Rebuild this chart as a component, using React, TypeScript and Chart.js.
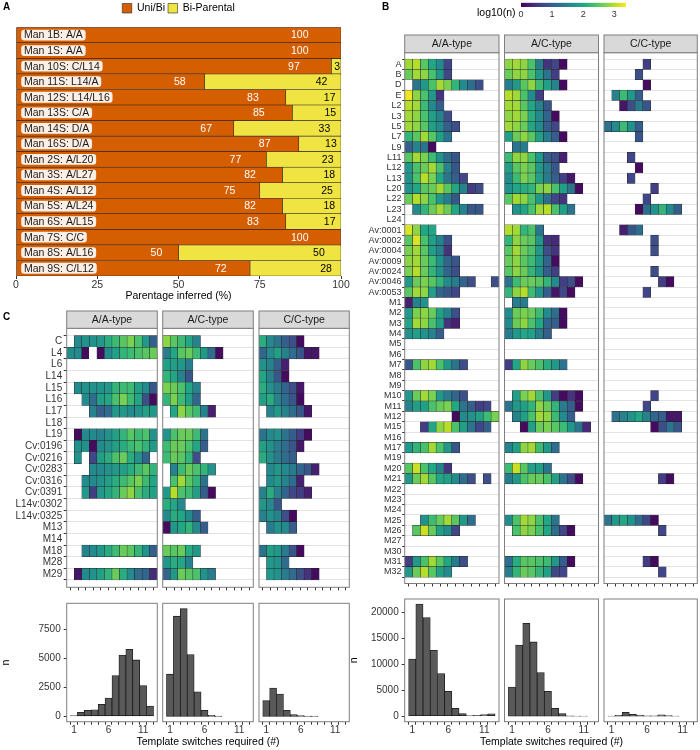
import React, { useEffect, useRef } from "react";
import { Chart, registerables } from "chart.js";

Chart.register(...registerables);

const FONT = "'Liberation Sans', Arial, Helvetica, sans-serif";
Chart.defaults.font.family = FONT;
Chart.defaults.color = "#333333";

const PAGE_W = 700;
const PAGE_H = 750;

// ---------------- Panel A data ----------------
const aCategories = [
  "Man 1B: A/A", "Man 1S: A/A", "Man 10S: C/L14", "Man 11S: L14/A", "Man 12S: L14/L16",
  "Man 13S: C/A", "Man 14S: D/A", "Man 16S: D/A", "Man 2S: A/L20", "Man 3S: A/L27",
  "Man 4S: A/L12", "Man 5S: A/L24", "Man 6S: A/L15", "Man 7S: C/C", "Man 8S: A/L16", "Man 9S: C/L12",
];
const aUniBi = [100, 100, 97, 58, 83, 85, 67, 87, 77, 82, 75, 82, 83, 100, 50, 72];
const aBiParental = [0, 0, 3, 42, 17, 15, 33, 13, 23, 18, 25, 18, 17, 0, 50, 28];
const aSeries = ["Uni/Bi", "Bi-Parental"];
const aTicks = [0, 25, 50, 75, 100];

// ---------------- Shared ----------------
const facets = ["A/A-type", "A/C-type", "C/C-type"];
const switchTicks = [1, 2, 3, 4, 5, 6, 7, 8, 9, 10, 11, 12];
const histLabelTicks = [1, 6, 11];
const LOG_MAX = 3.38;
const colorbarTicks = [0, 1, 2, 3];

// cells: [first column, log10(n) per column]; null = empty, -1 = blank (white) tile
type Cells = [number, (number | null)[]];

// ---------------- Panel B data ----------------
const bRows = [
  "A", "B", "D", "E", "L2", "L3", "L5", "L7", "L9", "L11", "L12", "L13", "L20", "L22", "L23", "L24",
  "Av:0001", "Av:0002", "Av:0004", "Av:0009", "Av:0024", "Av:0046", "Av:0053",
  "M1", "M2", "M3", "M4", "M5", "M6", "M7", "M8", "M9", "M10", "M11", "M12", "M15", "M16", "M17",
  "M19", "M20", "M21", "M22", "M23", "M24", "M25", "M26", "M27", "M30", "M31", "M32",
];
const bHeatAA: Record<string, Cells> = {
  A: [1, [2.9, 3.0, 2.5, 2.0, 1.6, 0.7]],
  B: [1, [2.6, 2.9, 2.8, 2.4, 1.8, 0.7]],
  D: [1, [-1, 1.3, 1.8, 2.4, 2.9, 2.7, 2.2, 1.6, 1.2, 0.8]],
  E: [1, [3.3, 2.8, 2.4, 1.8, 0.5]],
  L2: [1, [3.0, 2.9, 2.3, 1.6, 1.0]],
  L3: [1, [2.9, 2.8, 2.4, 1.9, 1.5, 0.8]],
  L5: [1, [2.9, 2.8, 2.5, 1.9, 1.6, 1.0, 0.8]],
  L7: [1, [2.2, 2.5, 2.9, 2.5, 1.9, 1.3]],
  L9: [1, [1.0, 1.5, 1.3, 0.1]],
  L11: [1, [2.5, 2.9, 2.7, 2.3, 1.7, 1.2, 0.9]],
  L12: [1, [1.8, 2.4, 2.6, 2.9, 2.4, 1.5, 0.9]],
  L13: [1, [1.7, 2.4, 3.0, 2.7, 2.0, 1.3, 1.0, 0.7]],
  L20: [1, [1.7, 2.0, 2.5, 2.6, 2.9, 2.5, 2.0, 1.5, 0.6, 0.8]],
  L22: [1, [2.6, 3.0, 2.8, 2.4, 1.8, 1.4, 0.9]],
  L23: [2, [1.6, 2.2, 2.6, 2.9, 2.6, 2.0, 1.5, 0.9, 0.9]],
  "Av:0001": [1, [3.2, 2.8, 2.0, 2.0]],
  "Av:0002": [1, [2.5, 3.2, 2.4, 1.9, 1.5, 0.8]],
  "Av:0004": [1, [2.7, 2.9, 2.5, 1.9, 1.5, 0.5]],
  "Av:0009": [1, [2.8, 2.9, 2.6, 2.3, 1.7, 1.1, 0.9]],
  "Av:0024": [1, [2.7, 3.0, 2.6, 2.2, 1.7, 1.1, 0.8]],
  "Av:0046": [1, [1.8, 2.6, 2.7, 2.5, 2.2, 1.6, 1.4, 1.1, 0.8, null, null, 0.8]],
  "Av:0053": [1, [2.5, 2.9, 2.8, 1.9, 1.1, 0.9, 0.7]],
  M1: [1, [0.3, 1.5, 1.7]],
  M2: [1, [1.8, 2.7, 2.8, 2.6, 1.9, 1.5, 0.8]],
  M3: [1, [2.0, 2.9, 2.8, 2.4, 1.9, 0.5, 0.3]],
  M4: [1, [1.7, 1.9, 1.7, 1.5, 1.0]],
  M7: [1, [0.9, 2.4, 2.8, 2.9, 2.4, 1.8, 1.3, 0.8]],
  M10: [1, [1.8, 2.6, 2.9, 2.7, 1.8, 1.4, 1.1, 0.8]],
  M11: [1, [1.5, 1.9, 1.9, 2.4, 2.6, 2.7, 2.0, 1.3, 1.0, 0.6, 0.7]],
  M12: [7, [0.1, 1.6, 1.7, 1.9, 2.3, 2.7]],
  M15: [3, [0.6, 2.0, 2.8, 3.0, 2.4, 1.9, 1.3, 0.7, 1.0]],
  M17: [1, [1.8, 2.2, 2.4, 2.9, 2.4, 1.8, 0.9]],
  M20: [1, [2.5, 3.1, 2.4, 2.0, 1.5, 0.5]],
  M21: [1, [1.8, 2.6, 2.9, 2.5, 2.0, 1.9, 1.6, 1.2, 0.8, null, 0.8]],
  M25: [3, [1.7, 2.3, 2.6, 2.9, 2.5, 1.8, 1.2]],
  M26: [2, [2.5, 3.1, 2.6, 1.9, 1.6, 0.7]],
  M31: [1, [0.6, 1.8, 2.4, 2.9, 2.5, 2.0, 1.4, 0.8]],
  M32: [1, [1.8, 2.6, 3.0, 2.5, 1.9, 1.6]],
};
const bHeatAC: Record<string, Cells> = {
  A: [1, [2.8, 2.9, 2.8, 2.4, 1.4, 0.5, 0.7, 0.1]],
  B: [1, [2.6, 2.8, 2.8, 2.4, 1.8, 1.3, 0.6]],
  D: [1, [1.4, 1.8, 2.5, 2.8, 2.3, 1.9, 1.5, 0.1]],
  E: [1, [3.0, 2.9, 2.4, 1.6, 0.6]],
  L2: [1, [2.9, 2.9, 2.5, 2.0, 1.5, 0.9]],
  L3: [1, [2.8, 2.9, 2.7, 2.1, 1.6, 1.1, 0.1]],
  L5: [1, [2.9, 2.8, 2.6, 2.0, 1.6, 1.0, 0.7]],
  L7: [1, [1.9, 2.6, 2.8, 2.5, 1.9, 1.4, 1.0, 0.1]],
  L9: [1, [-1, 1.3, 1.4]],
  L11: [1, [2.3, 2.8, 2.8, 2.4, 1.8, 1.0, 0.8, 0.3]],
  L12: [1, [1.9, 2.5, 2.7, 2.5, 1.8, 1.4, 0.9]],
  L13: [1, [1.6, 2.3, 2.7, 2.5, 1.9, 1.4, 1.0, 0.6, 0.2]],
  L20: [1, [1.7, 2.0, 2.1, 2.2, 2.7, 2.8, 2.4, 1.9, 1.3, 0.1]],
  L22: [1, [2.5, 2.9, 2.8, 2.4, 1.8, 1.2, 0.7, 0.5]],
  L23: [2, [1.7, 2.0, 2.4, 2.9, 3.0, 2.4, 1.9, 1.3]],
  "Av:0001": [1, [3.0, 2.9, 2.2, 2.4, 1.3]],
  "Av:0002": [1, [2.2, 2.8, 2.6, 2.5, 1.8, 0.5, 0.4]],
  "Av:0004": [1, [2.5, 2.9, 2.6, 2.4, 1.8, 0.8, 0.5]],
  "Av:0009": [1, [2.6, 2.8, 2.5, 2.3, 1.8, 1.1, 0.1]],
  "Av:0024": [1, [2.5, 2.8, 2.6, 2.2, 1.7, 1.0, 0.6]],
  "Av:0046": [1, [1.3, 2.3, 2.6, 2.6, 2.5, 2.2, 1.6, 0.6, 0.8, 0.1]],
  "Av:0053": [1, [2.2, 2.8, 3.0, 2.3, 1.7, 1.0, 0.2, 0.7, 0.1]],
  M1: [2, [1.4, 1.4]],
  M2: [1, [1.6, 2.6, 2.7, 2.6, 2.3, 1.6, 1.2, 0.1]],
  M3: [1, [1.6, 2.6, 2.8, 2.4, 2.0, 1.1, 1.0, 0.1]],
  M4: [1, [1.4, 1.8, 2.0, 1.9, 1.4, 1.0]],
  M7: [1, [0.6, 2.0, 2.8, 2.6, 2.4, 2.1, 1.8, 1.3]],
  M10: [2, [1.9, 2.7, 2.9, 2.4, 1.8, 0.6, 0.1, 0.5, 0.1]],
  M11: [1, [1.3, 1.8, 1.9, 2.2, 2.8, 2.6, 2.2, 1.4, 1.0, 0.1]],
  M12: [2, [1.5, 1.9, 2.4, 2.9, 2.8, 2.3, 1.6, 1.0]],
  M15: [3, [0.1, 1.9, 2.6, 2.7, 2.5, 2.3, 1.8, 1.3, 0.4]],
  M17: [1, [1.5, 1.9, 2.8, 2.9, 2.3, 1.8, 1.2]],
  M20: [1, [2.3, 3.1, 2.5, 1.9, 1.9, 1.3]],
  M21: [1, [1.4, 1.8, 2.4, 2.6, 2.6, 2.4, 1.9, 1.3, 0.8, 0.1]],
  M25: [1, [1.6, 2.4, 2.9, 2.8, 2.4, 2.0, 1.3]],
  M26: [2, [2.4, 2.8, 2.7, 2.4, 2.0, 1.2, 0.7, 0.1]],
  M31: [1, [1.2, 2.1, 2.5, 2.5, 2.4, 2.3, 1.8, 1.0, 0.1]],
  M32: [1, [1.4, 2.2, 2.6, 2.5, 2.2, 1.9, 0.7, 0.7]],
};
const bHeatCC: Record<string, Cells> = {
  A: [6, [0.6]],
  B: [5, [0.8]],
  D: [6, [0.1]],
  E: [2, [1.5, 2.3, 1.8, 1.0]],
  L2: [3, [0.2, 0.8, 1.4, 0.9]],
  L5: [1, [1.3, 1.6, 2.3, 1.7, 1.0]],
  L7: [5, [0.9]],
  L11: [4, [0.7]],
  L12: [5, [0.1]],
  L13: [4, [0.7]],
  L20: [7, [0.6]],
  L22: [6, [0.7]],
  L23: [5, [0.1, 1.2, 1.7, 2.2, 1.6, 1.0]],
  "Av:0001": [3, [0.3, 0.9, 1.2]],
  "Av:0002": [7, [0.8]],
  "Av:0004": [7, [0.8]],
  "Av:0024": [7, [0.8]],
  "Av:0046": [8, [0.6, 0.1]],
  "Av:0053": [6, [0.7]],
  M10: [7, [0.7]],
  M11: [6, [0.7]],
  M12: [2, [1.3, 1.5, 1.7, 2.0, 1.5, 1.1, 1.0, 0.2, 0.2]],
  M15: [7, [0.1, 0.8, 1.3, 0.9]],
  M21: [8, [0.6, 0.1]],
  M25: [1, [1.3, 1.8, 2.0, 1.7, 1.2, 0.7, 0.1]],
  M26: [8, [0.7]],
  M31: [6, [0.6, 0.1]],
  M32: [8, [0.7]],
};
const bHistAA = [11000, 21600, 19000, 12700, 8200, 4800, 1500, 500, 100, 150, 300, 450];
const bHistAC = [5600, 13700, 17900, 14300, 8400, 4800, 1500, 500, 70, 20, 10];
const bHistCC = [30, 150, 750, 350, 200, 60, 50, 250, 100, 10];
const bHistMax = 21500;
const bHistTicks = [0, 5000, 10000, 15000, 20000];

// ---------------- Panel C data ----------------
const cRows = [
  "C", "L4", "L6", "L14", "L15", "L16", "L17", "L18", "L19", "Cv:0196", "Cv:0216", "Cv:0283",
  "Cv:0316", "Cv:0391", "L14v:0302", "L14v:0325", "M13", "M14", "M18", "M28", "M29",
];
const cHeatAA: Record<string, Cells> = {
  C: [2, [1.6, 1.7, 1.7, 1.8, 2.1, 2.3, 2.5, 2.7, 2.4, 1.8, 1.0]],
  L4: [1, [1.6, 1.6, 0.1, -1, 0.1, 1.6, 1.9, 2.2, 2.3, 2.4, 2.5, 2.6]],
  L15: [2, [1.6, 1.7, 1.7, 1.7, 1.8, 2.2, 2.3, 2.3, 1.9, 1.6, 0.9]],
  L16: [3, [1.6, 1.2, 1.9, 2.0, 2.4, 2.7, 2.3, 2.0, 0.8, 0.1]],
  L17: [4, [1.5, 1.0, 1.2, 1.8, 1.8, 1.6, 1.7, 1.9, 1.8]],
  L19: [2, [0.1, 1.6, 1.6, 1.5, 1.7, 1.9, 2.2, 2.5, 2.3, 2.4, 1.7]],
  "Cv:0196": [2, [1.7, 1.7, 0.1, 1.6, 1.7, 1.9, 2.1, 2.3, 2.4, 2.2, 1.8]],
  "Cv:0216": [2, [1.7, -1, 0.7, 1.9, 2.1, 2.4, 2.6, 2.1, 1.7, 1.1]],
  "Cv:0283": [4, [1.6, 1.6, 1.7, 1.8, 1.9, 2.1, 2.3, 2.5, 2.2]],
  "Cv:0316": [3, [1.6, 1.6, 1.7, 1.9, 2.1, 2.3, 2.5, 2.7, 2.3, 2.0]],
  "Cv:0391": [3, [1.8, 0.6, 1.8, 2.0, 2.2, 2.6, 2.8, 2.4, 2.1, 1.9]],
  M18: [3, [1.5, 1.6, 1.8, 2.1, 2.3, 2.6, 2.5, 2.2, 1.7, 1.0]],
  M29: [2, [0.2, 1.6, 1.7, 1.9, 2.2, 2.6, 2.1, 1.6, 1.2, 1.1, 0.4]],
};
const cHeatAC: Record<string, Cells> = {
  C: [1, [2.8, 2.5, 2.3, 2.0, 1.5]],
  L4: [1, [1.4, 2.0, 2.5, 2.6, 2.3, 1.8, 1.2, 0.1]],
  L6: [1, [1.9, 1.9, 1.8, 1.4]],
  L14: [1, [2.2, 2.0, 1.5, 0.9]],
  L15: [1, [2.7, 2.6, 2.4, 2.0, 1.5]],
  L16: [1, [2.2, 2.7, 2.3, 1.9, 1.1]],
  L17: [2, [2.0, 2.8, 2.5, 2.3, 1.5, 0.3]],
  L19: [1, [1.7, 2.4, 2.6, 2.6, 2.3, 1.3]],
  "Cv:0196": [1, [2.3, 2.6, 2.6, 2.4, 2.0, 1.0]],
  "Cv:0216": [1, [2.3, 2.6, 2.5, 2.2, 0.8]],
  "Cv:0283": [1, [-1, 1.5, 2.3, 2.6, 2.4, 2.2, 1.7]],
  "Cv:0316": [1, [-1, 2.4, 2.9, 2.5, 2.2, 1.3]],
  "Cv:0391": [1, [1.8, 3.0, 2.4, 2.3, 1.9, 1.0, 0.1]],
  "L14v:0302": [1, [2.1, 2.0, 1.6]],
  "L14v:0325": [1, [1.6, 2.1, 2.0, 1.6, 1.0]],
  M13: [1, [0.1, 1.8, 2.0, 2.2, 1.6, 1.0]],
  M18: [1, [2.6, 2.5, 2.6, 2.1, 1.8]],
  M28: [1, [1.8, 2.1, 2.0, 1.5]],
  M29: [1, [1.1, 1.8, 2.6, 2.5, 2.4, 1.7, 1.4]],
};
const cHeatCC: Record<string, Cells> = {
  C: [1, [2.1, 1.6, 1.3, 1.0, 0.8, 0.1]],
  L4: [1, [1.1, 1.6, 1.9, 1.5, 1.2, 0.9, 0.2, 0.2]],
  L6: [1, [1.7, 1.5, 1.0, 0.3]],
  L14: [1, [2.0, 1.5, 0.9, 0.1]],
  L15: [1, [2.1, 1.7, 1.4, 1.1, 0.8, 0.2]],
  L16: [1, [1.9, 2.1, 1.5, 1.2, 0.9, 0.1]],
  L17: [2, [1.5, 1.8, 1.5, 1.2, 0.9, 0.2]],
  L19: [1, [1.3, 1.6, 1.7, 1.3, 1.0, 0.6, 0.1]],
  "Cv:0196": [1, [1.9, 1.7, 1.4, 1.2, 0.9, 0.2]],
  "Cv:0216": [1, [2.1, 1.7, 1.4, 1.2, 1.0]],
  "Cv:0283": [1, [-1, 1.6, 1.8, 1.6, 1.4, 1.1, 0.9, 0.3]],
  "Cv:0316": [2, [1.6, 1.8, 1.5, 1.2, 0.3]],
  "Cv:0391": [1, [1.5, 2.1, 1.5, 1.1, 0.7, 0.6, 0.3]],
  "L14v:0302": [1, [1.8, 1.6, 0.9]],
  "L14v:0325": [1, [1.5, 1.7, 1.5, 0.8, 0.1]],
  M13: [2, [1.4, 1.7, 1.6, 1.0]],
  M18: [1, [1.3, 1.9, 1.8, 1.4, 0.9, 0.1]],
  M28: [2, [1.8, 1.7, 1.2]],
  M29: [2, [1.8, 1.7, 1.4, 1.2, 0.8, 0.5, 0.1]],
};
const cHistAA = [60, 340, 520, 570, 1030, 1580, 3520, 5300, 5790, 4870, 2660, 890];
const cHistAC = [3640, 8650, 9300, 5330, 2120, 520, 90, 30];
const cHistCC = [1350, 2450, 1920, 520, 140, 60, 30, 20];
const cHistMax = 9300;
const cHistTicks = [0, 2500, 5000, 7500];

// ---------------- Helpers ----------------
const VIRIDIS = [
  "#440154", "#482475", "#414487", "#355F8D", "#2A788E", "#21918C",
  "#22A884", "#44BF70", "#7AD151", "#BDDF26", "#FDE725",
];
function hexToRgb(h: string) {
  const n = parseInt(h.slice(1), 16);
  return [(n >> 16) & 255, (n >> 8) & 255, n & 255];
}
function viridis(t: number) {
  const tt = Math.min(1, Math.max(0, t)) * (VIRIDIS.length - 1);
  const i = Math.min(VIRIDIS.length - 2, Math.floor(tt));
  const f = tt - i;
  const a = hexToRgb(VIRIDIS[i]);
  const b = hexToRgb(VIRIDIS[i + 1]);
  return `rgb(${a.map((c, k) => Math.round(c + (b[k] - c) * f)).join(",")})`;
}

type Box = { l: number; t: number; r: number; b: number };

function padFor(box: Box, yW: number, xH: number) {
  return { left: box.l - yW, right: PAGE_W - box.r, top: box.t, bottom: PAGE_H - box.b - xH };
}
function fixSize(size: number) {
  return (scale: any) => {
    if (scale.isHorizontal()) scale.height = size;
    else scale.width = size;
    scale.paddingLeft = 0;
    scale.paddingRight = 0;
    scale.paddingTop = 0;
    scale.paddingBottom = 0;
  };
}
function setTicks(values: number[]) {
  return (scale: any) => {
    scale.ticks = values.map((v) => ({ value: v }));
  };
}

const facetPlugin = {
  id: "facet",
  afterDatasetsDraw(chart: any, _args: any, opts: any) {
    const { ctx, chartArea: a } = chart;
    ctx.save();
    ctx.strokeStyle = "#7F7F7F";
    ctx.lineWidth = 1;
    ctx.strokeRect(a.left, a.top, a.right - a.left, a.bottom - a.top);
    if (opts && opts.strip) {
      const h = opts.stripH;
      ctx.fillStyle = "#D9D9D9";
      ctx.fillRect(a.left, a.top - h, a.right - a.left, h);
      ctx.strokeRect(a.left, a.top - h, a.right - a.left, h);
      ctx.fillStyle = "#1A1A1A";
      ctx.font = `10.5px ${FONT}`;
      ctx.textAlign = "center";
      ctx.textBaseline = "middle";
      ctx.fillText(opts.strip, (a.left + a.right) / 2, a.top - h / 2 + 0.5);
    }
    if (opts && opts.xTitle) {
      ctx.fillStyle = "#000000";
      ctx.font = `10.5px ${FONT}`;
      ctx.textAlign = "center";
      ctx.textBaseline = "middle";
      ctx.fillText(opts.xTitle, (a.left + a.right) / 2, opts.xTitleY);
    }
    ctx.restore();
  },
};

const aLabelPlugin = {
  id: "aLabels",
  afterDatasetsDraw(chart: any) {
    const { ctx } = chart;
    const xs = chart.scales.x;
    const ys = chart.scales.y;
    ctx.save();
    ctx.font = `10.5px ${FONT}`;
    ctx.textBaseline = "middle";
    aCategories.forEach((name, i) => {
      const py = ys.getPixelForValue(i);
      const bx = xs.getPixelForValue(1.6);
      const tw = ctx.measureText(name).width;
      ctx.fillStyle = "rgba(255,255,255,0.9)";
      ctx.beginPath();
      ctx.roundRect(bx, py - 5.4, tw + 5.5, 10.8, 3);
      ctx.fill();
      ctx.fillStyle = "#1A1A1A";
      ctx.textAlign = "left";
      ctx.fillText(name, bx + 2.7, py + 0.5);
      ctx.textAlign = "right";
      if (aUniBi[i] > 0) {
        ctx.fillStyle = "#FFFFFF";
        ctx.fillText(String(aUniBi[i]), xs.getPixelForValue(aUniBi[i] * 0.9), py + 0.5);
      }
      if (aBiParental[i] > 0) {
        ctx.fillStyle = "#000000";
        ctx.fillText(String(aBiParental[i]), xs.getPixelForValue(100 - aBiParental[i] * 0.1), py + 0.5);
      }
    });
    ctx.restore();
  },
};

const baseOpts = { animation: false, responsive: false, devicePixelRatio: 1, events: [] as string[] };

function panelAConfig(): any {
  const box: Box = { l: 16, t: 27.3, r: 341, b: 276 };
  const xH = 26.8;
  return {
    type: "bar",
    data: {
      labels: aCategories,
      datasets: [
        { label: aSeries[0], data: aUniBi.map((v) => (v > 0 ? v : null)), backgroundColor: "#D55E00", borderColor: "#262626", borderWidth: 0.6, borderSkipped: false },
        { label: aSeries[1], data: aBiParental.map((v) => (v > 0 ? v : null)), backgroundColor: "#F0E442", borderColor: "#262626", borderWidth: 0.6, borderSkipped: false },
      ],
    },
    options: {
      ...baseOpts,
      indexAxis: "y",
      layout: { padding: { left: box.l, right: PAGE_W - box.r, top: 0, bottom: PAGE_H - box.b - xH } },
      datasets: { bar: { categoryPercentage: 1, barPercentage: 1 } },
      scales: {
        x: {
          type: "linear", stacked: true, min: 0, max: 100,
          afterBuildTicks: setTicks(aTicks),
          ticks: { font: { size: 10.5 }, padding: 0, color: "#333333", maxRotation: 0, callback: (v: any) => String(v) },
          grid: { drawOnChartArea: false, tickLength: 3, tickColor: "#333333" },
          border: { display: false },
          title: { display: true, text: "Parentage inferred (%)", color: "#000000", font: { size: 10.5 }, padding: 0 },
          afterFit: fixSize(xH),
        },
        y: { type: "category", stacked: true, display: false },
      },
      plugins: {
        legend: {
          display: true, position: "top", fullSize: false,
          labels: { boxWidth: 9.5, boxHeight: 9.5, padding: 3, font: { size: 10.5 }, color: "#000000" },
        },
        title: { display: true, text: "", weight: 100, padding: 0, font: { size: 3.8, lineHeight: 1 } },
        tooltip: { enabled: false },
      },
    },
    plugins: [aLabelPlugin],
  };
}

function colorbarConfig(): any {
  const box: Box = { l: 521, t: 2.7, r: 626, b: 6.9 };
  return {
    type: "bar",
    data: {
      datasets: [{
        data: [{ x: [0, LOG_MAX], y: 0 }],
        borderWidth: 0,
        categoryPercentage: 1,
        barPercentage: 1,
        backgroundColor: (c: any) => {
          const a = c.chart.chartArea;
          if (!a) return VIRIDIS[5];
          const g = c.chart.ctx.createLinearGradient(a.left, 0, a.right, 0);
          VIRIDIS.forEach((col, i) => g.addColorStop(i / (VIRIDIS.length - 1), col));
          return g;
        },
      }],
    },
    options: {
      ...baseOpts,
      indexAxis: "y",
      layout: { padding: padFor(box, 0, 14) },
      scales: {
        x: {
          type: "linear", min: 0, max: LOG_MAX,
          afterBuildTicks: setTicks(colorbarTicks),
          ticks: { font: { size: 9 }, padding: 2.7, color: "#333333", maxRotation: 0 },
          grid: { display: false, drawTicks: false },
          border: { display: false },
          afterFit: fixSize(14),
        },
        y: { type: "linear", display: false, min: -0.5, max: 0.5, afterBuildTicks: setTicks([0]) },
      },
      plugins: { legend: { display: false }, tooltip: { enabled: false } },
    },
  };
}

function heatConfig(rows: string[], cells: Record<string, Cells>, box: Box, showY: boolean, yW: number,
  strip: string, stripH: number, labelSize: number, tickLen: number, labelPad: number): any {
  const points: any[] = [];
  const fills: string[] = [];
  const strokes: string[] = [];
  rows.forEach((name, i) => {
    const entry = cells[name];
    if (!entry) return;
    const [start, vals] = entry;
    vals.forEach((v, k) => {
      if (v === null) return;
      const col = start + k;
      points.push({ x: [col - 0.5, col + 0.5], y: i });
      fills.push(v < 0 ? "#FFFFFF" : viridis(v / LOG_MAX));
      strokes.push(v < 0 ? "#FFFFFF" : "#262626");
    });
  });
  const w = showY ? yW : 0;
  return {
    type: "bar",
    data: {
      datasets: [{
        data: points, backgroundColor: fills, borderColor: strokes, borderWidth: 0.5,
        borderSkipped: false, categoryPercentage: 1, barPercentage: 1,
      }],
    },
    options: {
      ...baseOpts,
      indexAxis: "y",
      layout: { padding: padFor(box, w, 4) },
      scales: {
        x: {
          type: "linear", min: 0.5, max: 12.5,
          afterBuildTicks: setTicks(switchTicks),
          ticks: { display: false },
          grid: { drawOnChartArea: false, drawTicks: true, tickLength: 3, tickColor: "#333333" },
          border: { display: false },
          afterFit: fixSize(4),
        },
        y: {
          type: "linear", reverse: true, min: -0.6, max: rows.length - 0.4,
          afterBuildTicks: setTicks(rows.map((_, i) => i)),
          ticks: {
            display: showY, autoSkip: false, padding: labelPad, color: "#333333",
            font: { size: labelSize },
            callback: (v: any) => rows[Math.round(Number(v))],
          },
          grid: { color: "#E3E3E3", lineWidth: 1, drawTicks: showY, tickLength: tickLen, tickColor: "#333333" },
          border: { display: false },
          afterFit: fixSize(w),
        },
      },
      plugins: { legend: { display: false }, tooltip: { enabled: false }, facet: { strip, stripH } },
    },
    plugins: [facetPlugin],
  };
}

function histConfig(values: number[], box: Box, yMaxData: number, yTicks: number[], showY: boolean,
  yW: number, title: string | null): any {
  const w = showY ? yW : 0;
  return {
    type: "bar",
    data: {
      datasets: [{
        data: values.map((v, i) => ({ x: switchTicks[i], y: v })),
        backgroundColor: "#595959", borderColor: "#1A1A1A", borderWidth: 0.8,
        borderSkipped: false, categoryPercentage: 1, barPercentage: 1,
      }],
    },
    options: {
      ...baseOpts,
      layout: { padding: padFor(box, w, 26) },
      scales: {
        x: {
          type: "linear", min: 0.5, max: 12.5,
          afterBuildTicks: setTicks(switchTicks),
          ticks: {
            autoSkip: false, maxRotation: 0, padding: 0, color: "#333333", font: { size: 10 },
            callback: (v: any) => (histLabelTicks.includes(Number(v)) ? String(v) : ""),
          },
          grid: { drawOnChartArea: false, tickLength: 3, tickColor: "#333333" },
          border: { display: false },
          afterFit: fixSize(26),
        },
        y: {
          type: "linear", display: showY, min: -0.05 * yMaxData, max: 1.05 * yMaxData,
          afterBuildTicks: setTicks(yTicks),
          ticks: { autoSkip: false, padding: 3, color: "#333333", font: { size: 10 }, callback: (v: any) => String(v) },
          grid: { drawOnChartArea: false, tickLength: 3, tickColor: "#333333" },
          border: { display: false },
          title: { display: true, text: "n", color: "#000000", font: { size: 10.5 }, padding: 0 },
          afterFit: fixSize(w),
        },
      },
      plugins: {
        legend: { display: false }, tooltip: { enabled: false },
        facet: { strip: null, xTitle: title, xTitleY: box.b + 20 },
      },
    },
    plugins: [facetPlugin],
  };
}

const bCols = [{ l: 404.7, r: 499 }, { l: 504.5, r: 598.5 }, { l: 604, r: 697.3 }];
const cCols = [{ l: 66.7, r: 157.3 }, { l: 162.7, r: 253.3 }, { l: 259, r: 349.3 }];
const AXIS_TITLE = "Template switches required (#)";

function buildConfigs(): any[] {
  const bHeats = [bHeatAA, bHeatAC, bHeatCC];
  const bHists = [bHistAA, bHistAC, bHistCC];
  const cHeats = [cHeatAA, cHeatAC, cHeatCC];
  const cHists = [cHistAA, cHistAC, cHistCC];
  const list: any[] = [panelAConfig(), colorbarConfig()];
  bCols.forEach((c, k) => {
    list.push(heatConfig(bRows, bHeats[k], { l: c.l, r: c.r, t: 52.7, b: 583.5 }, k === 0, 70, facets[k], 17.7, 9, 2.5, 0.8));
  });
  bCols.forEach((c, k) => {
    list.push(histConfig(bHists[k], { l: c.l, r: c.r, t: 599, b: 721.7 }, bHistMax, bHistTicks, k === 0, 57, k === 1 ? AXIS_TITLE : null));
  });
  cCols.forEach((c, k) => {
    list.push(heatConfig(cRows, cHeats[k], { l: c.l, r: c.r, t: 328.3, b: 587.3 }, k === 0, 66.7, facets[k], 17.3, 10, 3, 1.5));
  });
  cCols.forEach((c, k) => {
    list.push(histConfig(cHists[k], { l: c.l, r: c.r, t: 603.3, b: 721.7 }, cHistMax, cHistTicks, k === 0, 66.7, k === 1 ? AXIS_TITLE : null));
  });
  return list;
}

const CHART_COUNT = 14;

const letterStyle = (left: number, top: number): React.CSSProperties => ({
  position: "absolute", left, top, fontSize: 10, lineHeight: "10px", fontWeight: 700,
  fontFamily: FONT, color: "#000",
});

export default function App() {
  const refs = useRef<(HTMLCanvasElement | null)[]>([]);
  useEffect(() => {
    const configs = buildConfigs();
    const charts = configs.map((cfg, i) => new Chart(refs.current[i] as HTMLCanvasElement, cfg));
    return () => charts.forEach((c) => c.destroy());
  }, []);
  return (
    <div style={{ position: "absolute", left: 0, top: 0, width: PAGE_W, height: PAGE_H, background: "#FFFFFF", overflow: "hidden" }}>
      {Array.from({ length: CHART_COUNT }).map((_, i) => (
        <canvas
          key={i}
          ref={(el) => { refs.current[i] = el; }}
          width={PAGE_W}
          height={PAGE_H}
          style={{ position: "absolute", left: 0, top: 0, width: PAGE_W, height: PAGE_H }}
        />
      ))}
      <div style={letterStyle(3, 1.8)}>A</div>
      <div style={letterStyle(382, 1.8)}>B</div>
      <div style={letterStyle(3, 311.7)}>C</div>
      <div style={{ position: "absolute", left: 477, top: 6.8, fontSize: 10.5, lineHeight: "10.5px", fontFamily: FONT, color: "#000" }}>log10(n)</div>
    </div>
  );
}
